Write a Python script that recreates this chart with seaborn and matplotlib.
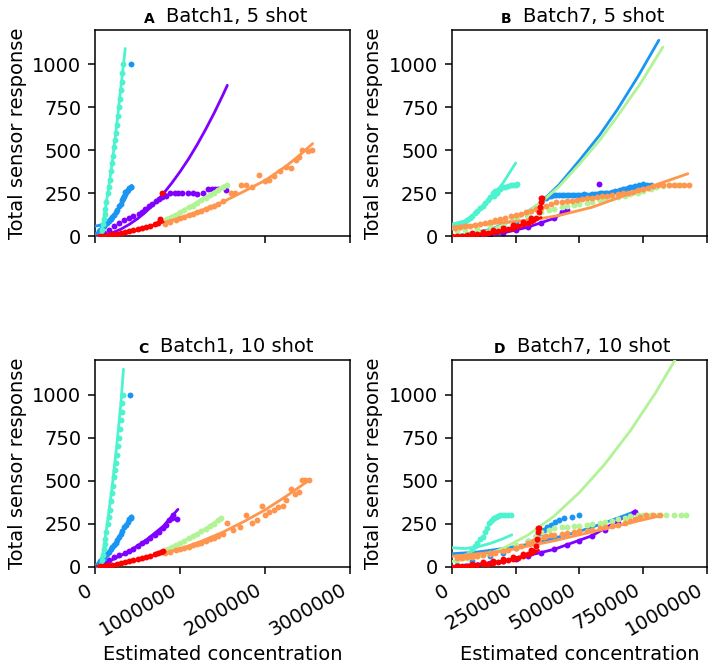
import matplotlib
matplotlib.use('Agg')
import matplotlib.pyplot as plt
import seaborn as sns

# gases in draw order, coloured by the rainbow colormap
gases = ['g1', 'g2', 'g3', 'g4', 'g5', 'g6']
gas_colors = ['#8000ff', '#1996f3', '#4df3ce', '#b2f396', '#ff964f', '#ff0000']

panel_letters = ['A', 'B', 'C', 'D']
panel_titles = ['Batch1, 5 shot', 'Batch7, 5 shot', 'Batch1, 10 shot', 'Batch7, 10 shot']

y_ticks = [0, 250, 500, 750, 1000]
x_ticks_batch1 = [0, 1000000, 2000000, 3000000]
x_ticks_batch7 = [0, 250000, 500000, 750000, 1000000]

# ---------------- panel A: Batch1, 5 shot ----------------
A_g1_dots = [(0.02e6, 3), (0.06e6, 10), (0.1e6, 20), (0.16e6, 40), (0.22e6, 60), (0.28e6, 80), (0.34e6, 95),
             (0.395e6, 110), (0.45e6, 120), (0.51e6, 132), (0.55e6, 145), (0.59e6, 160), (0.63e6, 175),
             (0.668e6, 190), (0.71e6, 205), (0.747e6, 218), (0.78e6, 230), (0.805e6, 240), (0.83e6, 235),
             (0.88e6, 250), (0.94e6, 250), (0.97e6, 255), (1.02e6, 252), (1.09e6, 250), (1.15e6, 250),
             (1.2e6, 248), (1.27e6, 252), (1.33e6, 278), (1.37e6, 278), (1.41e6, 278), (1.45e6, 275),
             (1.545e6, 272)]
A_g1_fit = [(0, 0), (0.1e6, 7), (0.2e6, 21), (0.3e6, 42), (0.4e6, 70), (0.5e6, 104), (0.6e6, 145), (0.7e6, 193),
            (0.8e6, 248), (0.9e6, 310), (1.0e6, 378), (1.1e6, 452), (1.2e6, 534), (1.3e6, 623), (1.4e6, 718),
            (1.5e6, 820), (1.555e6, 879)]
A_g2_dots = [(0.02e6, 15), (0.04e6, 30), (0.06e6, 40), (0.08e6, 50), (0.1e6, 58), (0.12e6, 70), (0.14e6, 80),
             (0.16e6, 90), (0.18e6, 100), (0.2e6, 112), (0.22e6, 125), (0.24e6, 140), (0.26e6, 155),
             (0.28e6, 175), (0.3e6, 190), (0.317e6, 210), (0.33e6, 225), (0.34e6, 235), (0.355e6, 258),
             (0.37e6, 265), (0.385e6, 270), (0.4e6, 280), (0.415e6, 285), (0.426e6, 287), (0.42e6, 1000)]
A_g2_fit = [(0, 60), (0.05e6, 65), (0.1e6, 75), (0.15e6, 92), (0.2e6, 115), (0.25e6, 144), (0.3e6, 179),
            (0.35e6, 219), (0.4e6, 266), (0.43e6, 297)]
A_g3_dots = [(0.064e6, 10), (0.076e6, 40), (0.088e6, 70), (0.1e6, 100), (0.109e6, 130), (0.119e6, 160),
             (0.131e6, 200), (0.147e6, 250), (0.159e6, 290), (0.171e6, 330), (0.185e6, 380), (0.2e6, 430),
             (0.21e6, 470), (0.221e6, 520), (0.231e6, 560), (0.24e6, 600), (0.252e6, 650), (0.264e6, 700),
             (0.275e6, 750), (0.286e6, 800), (0.298e6, 850), (0.309e6, 900), (0.318e6, 950), (0.322e6, 1000)]
A_g3_fit = [(0.06e6, 0), (0.1e6, 100), (0.15e6, 260), (0.2e6, 430), (0.25e6, 640), (0.3e6, 860),
            (0.353e6, 1093)]
A_g4_dots = [(0.85e6, 100), (0.9e6, 112), (0.95e6, 125), (1.0e6, 140), (1.05e6, 155), (1.1e6, 170),
             (1.15e6, 180), (1.2e6, 195), (1.25e6, 210), (1.3e6, 225), (1.35e6, 240), (1.4e6, 255),
             (1.45e6, 270), (1.5e6, 290), (1.55e6, 300)]
A_g4_fit = [(0.8e6, 95), (1.0e6, 142), (1.25e6, 215), (1.55e6, 305)]
A_g5_dots = [(0.82e6, 75), (0.88e6, 85), (0.95e6, 95), (1.0e6, 110), (1.05e6, 115), (1.1e6, 125), (1.15e6, 132),
             (1.2e6, 140), (1.25e6, 150), (1.3e6, 160), (1.35e6, 170), (1.4e6, 180), (1.45e6, 190),
             (1.5e6, 205), (1.6e6, 250), (1.65e6, 252), (1.72e6, 300), (1.78e6, 298), (1.85e6, 290),
             (1.93e6, 355), (2.0e6, 320), (2.05e6, 330), (2.11e6, 350), (2.17e6, 380), (2.25e6, 405),
             (2.3e6, 400), (2.36e6, 447), (2.4e6, 460), (2.44e6, 500), (2.5e6, 495), (2.55e6, 500)]
A_g5_fit = [(0.8e6, 80), (1.0e6, 108), (1.25e6, 152), (1.5e6, 200), (1.75e6, 262), (2.0e6, 326), (2.25e6, 410),
            (2.4e6, 470), (2.56e6, 540)]
A_g6_dots = [(0.05e6, 2), (0.1e6, 5), (0.15e6, 8), (0.2e6, 12), (0.25e6, 17), (0.3e6, 22), (0.35e6, 28),
             (0.4e6, 33), (0.45e6, 38), (0.5e6, 44), (0.55e6, 50), (0.6e6, 56), (0.65e6, 63), (0.7e6, 72),
             (0.74e6, 80), (0.766e6, 103), (0.785e6, 252)]
A_g6_fit = [(0, 0), (0.2e6, 10), (0.4e6, 25), (0.6e6, 50), (0.8e6, 85)]

# ---------------- panel B: Batch7, 5 shot ----------------
B_g1_dots = [(0.05e6, 2), (0.1e6, 5), (0.15e6, 10), (0.2e6, 20), (0.25e6, 35), (0.3e6, 55), (0.35e6, 80),
             (0.4e6, 110), (0.43e6, 140), (0.45e6, 155), (0.576e6, 303)]
B_g1_fit = [(0, 0), (0.1e6, 5), (0.2e6, 20), (0.3e6, 55), (0.4e6, 105), (0.45e6, 150)]
B_g2_dots = [(0.05e6, 10), (0.1e6, 25), (0.15e6, 40), (0.2e6, 60), (0.25e6, 85), (0.3e6, 120), (0.33e6, 165),
             (0.354e6, 210), (0.37e6, 225), (0.38e6, 235), (0.39e6, 238), (0.4e6, 240), (0.41e6, 242),
             (0.42e6, 244), (0.43e6, 240), (0.44e6, 240), (0.45e6, 243), (0.46e6, 242), (0.47e6, 240),
             (0.48e6, 240), (0.49e6, 244), (0.5e6, 242), (0.51e6, 244), (0.52e6, 245), (0.53e6, 243),
             (0.54e6, 244), (0.55e6, 246), (0.56e6, 246), (0.57e6, 248), (0.58e6, 250), (0.59e6, 250),
             (0.6e6, 250), (0.61e6, 252), (0.62e6, 255), (0.63e6, 258), (0.64e6, 262), (0.65e6, 266),
             (0.66e6, 270), (0.67e6, 274), (0.68e6, 278), (0.69e6, 282), (0.7e6, 285), (0.71e6, 290),
             (0.72e6, 295), (0.735e6, 300), (0.75e6, 305), (0.765e6, 300), (0.78e6, 300)]
B_g2_fit = [(0, 0), (0.15e6, 40), (0.25e6, 100), (0.343e6, 190), (0.42e6, 300), (0.5e6, 442), (0.58e6, 590),
            (0.65e6, 740), (0.73e6, 930), (0.812e6, 1141)]
B_g3_dots = [(0.0, 55), (0.01e6, 60), (0.02e6, 65), (0.03e6, 70), (0.04e6, 75), (0.05e6, 85), (0.06e6, 95),
             (0.07e6, 108), (0.08e6, 120), (0.09e6, 135), (0.1e6, 150), (0.11e6, 165), (0.12e6, 180),
             (0.13e6, 195), (0.14e6, 210), (0.15e6, 230), (0.16e6, 250), (0.165e6, 235), (0.17e6, 265),
             (0.175e6, 255), (0.18e6, 270), (0.19e6, 278), (0.2e6, 285), (0.21e6, 290), (0.22e6, 295),
             (0.23e6, 300), (0.24e6, 300), (0.25e6, 300), (0.257e6, 303)]
B_g3_fit = [(0, 72), (0.05e6, 90), (0.1e6, 140), (0.15e6, 215), (0.2e6, 310), (0.25e6, 427)]
B_g4_dots = [(0.02e6, 30), (0.05e6, 35), (0.1e6, 45), (0.15e6, 60), (0.2e6, 80), (0.25e6, 100), (0.3e6, 120),
             (0.35e6, 140), (0.38e6, 155), (0.4e6, 160), (0.43e6, 170), (0.45e6, 175), (0.48e6, 185),
             (0.5e6, 190), (0.53e6, 195), (0.55e6, 200), (0.58e6, 210), (0.6e6, 215), (0.63e6, 222),
             (0.65e6, 230), (0.68e6, 238), (0.7e6, 245), (0.73e6, 255), (0.75e6, 265), (0.78e6, 275),
             (0.8e6, 285), (0.83e6, 295), (0.85e6, 300), (0.88e6, 300), (0.9e6, 300)]
B_g4_fit = [(0, 0), (0.15e6, 35), (0.25e6, 100), (0.343e6, 190), (0.42e6, 290), (0.5e6, 420), (0.58e6, 560),
            (0.65e6, 700), (0.74e6, 890), (0.828e6, 1102)]
B_g5_dots = [(0.01e6, 52), (0.03e6, 55), (0.05e6, 58), (0.07e6, 62), (0.09e6, 67), (0.11e6, 73), (0.13e6, 79),
             (0.15e6, 85), (0.17e6, 93), (0.19e6, 100), (0.21e6, 108), (0.23e6, 117), (0.25e6, 125),
             (0.27e6, 133), (0.29e6, 141), (0.31e6, 149), (0.33e6, 157), (0.35e6, 165), (0.37e6, 178),
             (0.39e6, 190), (0.41e6, 198), (0.43e6, 201), (0.45e6, 204), (0.47e6, 207), (0.49e6, 212),
             (0.51e6, 217), (0.53e6, 221), (0.55e6, 225), (0.57e6, 229), (0.59e6, 233), (0.61e6, 237),
             (0.63e6, 241), (0.65e6, 245), (0.67e6, 250), (0.69e6, 255), (0.71e6, 261), (0.73e6, 268),
             (0.75e6, 275), (0.77e6, 283), (0.79e6, 291), (0.81e6, 298), (0.83e6, 300), (0.85e6, 300),
             (0.87e6, 300), (0.89e6, 300), (0.91e6, 300), (0.93e6, 300)]
B_g5_fit = [(0, 55), (0.2e6, 80), (0.343e6, 103), (0.42e6, 122), (0.55e6, 170), (0.697e6, 248), (0.8e6, 300),
            (0.926e6, 365)]
B_g6_dots = [(0.0, 0), (0.02e6, 2), (0.04e6, 4), (0.06e6, 6), (0.08e6, 9), (0.1e6, 12), (0.12e6, 15),
             (0.14e6, 19), (0.16e6, 24), (0.18e6, 30), (0.2e6, 36), (0.22e6, 43), (0.24e6, 52), (0.26e6, 60),
             (0.28e6, 70), (0.3e6, 80), (0.31e6, 88), (0.32e6, 95), (0.33e6, 110), (0.08e6, 20), (0.12e6, 28),
             (0.16e6, 38), (0.2e6, 50), (0.24e6, 65), (0.28e6, 85), (0.31e6, 105), (0.34e6, 140),
             (0.345e6, 170), (0.35e6, 200), (0.35e6, 225), (0.355e6, 225)]
B_g6_fit = [(0, 0), (0.1e6, 12), (0.2e6, 35), (0.3e6, 80), (0.35e6, 110)]

# ---------------- panel C: Batch1, 10 shot ----------------
C_g1_dots = [(0.02e6, 3), (0.06e6, 12), (0.1e6, 22), (0.16e6, 40), (0.22e6, 55), (0.28e6, 68), (0.355e6, 79),
             (0.4e6, 90), (0.45e6, 105), (0.5e6, 120), (0.55e6, 137), (0.6e6, 150), (0.65e6, 168), (0.7e6, 185),
             (0.747e6, 204), (0.8e6, 225), (0.83e6, 240), (0.864e6, 272), (0.9e6, 285), (0.92e6, 300),
             (0.96e6, 276)]
C_g1_fit = [(0, 0), (0.2e6, 40), (0.4e6, 90), (0.6e6, 155), (0.8e6, 235), (0.973e6, 333)]
C_g2_dots = [(0.02e6, 10), (0.04e6, 20), (0.06e6, 32), (0.08e6, 42), (0.1e6, 52), (0.12e6, 62), (0.14e6, 75),
             (0.16e6, 88), (0.18e6, 100), (0.2e6, 112), (0.22e6, 125), (0.24e6, 140), (0.26e6, 155),
             (0.28e6, 172), (0.3e6, 190), (0.32e6, 208), (0.34e6, 228), (0.36e6, 245), (0.38e6, 262),
             (0.4e6, 275), (0.415e6, 285), (0.426e6, 291), (0.41e6, 998)]
C_g2_fit = [(0.02e6, 0), (0.1e6, 50), (0.2e6, 112), (0.3e6, 190), (0.43e6, 295)]
C_g3_dots = [(0.064e6, 10), (0.076e6, 40), (0.088e6, 70), (0.1e6, 100), (0.109e6, 130), (0.119e6, 160),
             (0.131e6, 200), (0.147e6, 250), (0.159e6, 290), (0.171e6, 330), (0.185e6, 380), (0.2e6, 430),
             (0.21e6, 470), (0.221e6, 520), (0.231e6, 560), (0.24e6, 600), (0.252e6, 650), (0.264e6, 700),
             (0.275e6, 750), (0.286e6, 800), (0.298e6, 850), (0.309e6, 900), (0.318e6, 950), (0.322e6, 998)]
C_g3_fit = [(0.06e6, 0), (0.1e6, 110), (0.15e6, 280), (0.2e6, 470), (0.25e6, 690), (0.3e6, 940),
            (0.332e6, 1148)]
C_g4_dots = [(0.82e6, 95), (0.86e6, 105), (0.9e6, 115), (0.95e6, 125), (1.0e6, 140), (1.05e6, 150),
             (1.1e6, 165), (1.15e6, 178), (1.2e6, 190), (1.25e6, 205), (1.3e6, 220), (1.35e6, 235),
             (1.4e6, 250), (1.45e6, 270), (1.48e6, 281)]
C_g4_fit = [(0.8e6, 92), (1.0e6, 138), (1.25e6, 205), (1.48e6, 283)]
C_g5_dots = [(0.82e6, 80), (0.88e6, 85), (0.95e6, 95), (1.0e6, 100), (1.05e6, 108), (1.1e6, 115), (1.15e6, 125),
             (1.2e6, 130), (1.25e6, 140), (1.3e6, 150), (1.35e6, 158), (1.4e6, 165), (1.45e6, 180),
             (1.5e6, 190), (1.55e6, 256), (1.62e6, 215), (1.7e6, 230), (1.78e6, 300), (1.85e6, 255),
             (1.9e6, 270), (1.96e6, 353), (2.0e6, 300), (2.05e6, 315), (2.1e6, 330), (2.15e6, 345),
             (2.21e6, 353), (2.25e6, 390), (2.31e6, 449), (2.35e6, 420), (2.4e6, 435), (2.43e6, 503),
             (2.47e6, 503), (2.52e6, 503)]
C_g5_fit = [(0.8e6, 78), (1.0e6, 103), (1.25e6, 148), (1.5e6, 200), (1.75e6, 262), (2.0e6, 330), (2.25e6, 410),
            (2.52e6, 503)]
C_g6_dots = [(0.05e6, 2), (0.1e6, 5), (0.15e6, 8), (0.2e6, 12), (0.25e6, 17), (0.3e6, 22), (0.35e6, 28),
             (0.4e6, 33), (0.45e6, 38), (0.5e6, 44), (0.55e6, 50), (0.6e6, 56), (0.65e6, 63), (0.7e6, 72),
             (0.74e6, 80), (0.77e6, 88), (0.8e6, 92)]
C_g6_fit = [(0, 0), (0.2e6, 10), (0.4e6, 28), (0.6e6, 52), (0.8e6, 85)]

# ---------------- panel D: Batch7, 10 shot ----------------
D_g1_dots = [(0.05e6, 3), (0.1e6, 10), (0.15e6, 20), (0.2e6, 30), (0.25e6, 45), (0.3e6, 60), (0.35e6, 80),
             (0.4e6, 100), (0.45e6, 125), (0.5e6, 150), (0.55e6, 180), (0.6e6, 215), (0.65e6, 255),
             (0.7e6, 300), (0.72e6, 320)]
D_g1_fit = [(0, 0), (0.2e6, 30), (0.4e6, 100), (0.55e6, 180), (0.72e6, 325)]
D_g2_dots = [(0.02e6, 10), (0.08e6, 30), (0.15e6, 60), (0.2e6, 80), (0.25e6, 110), (0.3e6, 150), (0.33e6, 180),
             (0.345e6, 198), (0.36e6, 215), (0.375e6, 230), (0.39e6, 245), (0.405e6, 260), (0.42e6, 272),
             (0.44e6, 283), (0.47e6, 290), (0.5e6, 300)]
D_g2_fit = [(0, 75), (0.1e6, 85), (0.2e6, 105), (0.3e6, 130), (0.4e6, 165), (0.5e6, 205), (0.6e6, 255),
            (0.7e6, 310)]
D_g3_dots = [(0.05e6, 60), (0.06e6, 70), (0.067e6, 79), (0.08e6, 100), (0.09e6, 120), (0.1e6, 140),
             (0.11e6, 160), (0.12e6, 175), (0.13e6, 200), (0.138e6, 225), (0.146e6, 252), (0.153e6, 265),
             (0.16e6, 275), (0.166e6, 284), (0.172e6, 291), (0.18e6, 295), (0.19e6, 298), (0.2e6, 300),
             (0.21e6, 300), (0.22e6, 300), (0.231e6, 300)]
D_g3_fit = [(0, 110), (0.05e6, 105), (0.1e6, 115), (0.15e6, 135), (0.2e6, 162), (0.235e6, 185)]
D_g4_dots = [(0.02e6, 40), (0.06e6, 50), (0.1e6, 60), (0.15e6, 80), (0.2e6, 100), (0.25e6, 125), (0.3e6, 150),
             (0.33e6, 180), (0.35e6, 200), (0.38e6, 215), (0.4e6, 225), (0.43e6, 228), (0.45e6, 230),
             (0.48e6, 235), (0.5e6, 238), (0.53e6, 244), (0.55e6, 248), (0.58e6, 254), (0.6e6, 258),
             (0.63e6, 268), (0.65e6, 275), (0.68e6, 285), (0.7e6, 292), (0.73e6, 298), (0.75e6, 300),
             (0.78e6, 300), (0.81e6, 300), (0.84e6, 300), (0.87e6, 300), (0.9e6, 300), (0.92e6, 300)]
D_g4_fit = [(0, 30), (0.1e6, 53), (0.2e6, 105), (0.3e6, 185), (0.4e6, 293), (0.5e6, 431), (0.6e6, 596),
            (0.7e6, 790), (0.8e6, 1013), (0.875e6, 1200)]
D_g5_dots = [(0.02e6, 50), (0.04e6, 52), (0.06e6, 55), (0.08e6, 58), (0.1e6, 62), (0.12e6, 67), (0.15e6, 75),
             (0.17e6, 82), (0.2e6, 90), (0.22e6, 98), (0.25e6, 110), (0.27e6, 120), (0.3e6, 135),
             (0.32e6, 148), (0.34e6, 160), (0.36e6, 172), (0.37e6, 180), (0.39e6, 183), (0.4e6, 185),
             (0.43e6, 190), (0.45e6, 195), (0.48e6, 200), (0.5e6, 205), (0.53e6, 210), (0.55e6, 215),
             (0.58e6, 222), (0.6e6, 228), (0.63e6, 238), (0.65e6, 245), (0.68e6, 255), (0.7e6, 265),
             (0.72e6, 278), (0.74e6, 290), (0.76e6, 300), (0.79e6, 300), (0.815e6, 300)]
D_g5_fit = [(0, 60), (0.2e6, 90), (0.4e6, 150), (0.6e6, 220), (0.815e6, 295)]
D_g6_dots = [(0.0, 0), (0.02e6, 2), (0.04e6, 4), (0.06e6, 6), (0.08e6, 8), (0.1e6, 11), (0.12e6, 14),
             (0.14e6, 18), (0.16e6, 22), (0.18e6, 27), (0.2e6, 32), (0.22e6, 38), (0.24e6, 45), (0.26e6, 53),
             (0.28e6, 62), (0.3e6, 72), (0.31e6, 80), (0.32e6, 90), (0.08e6, 18), (0.12e6, 26), (0.16e6, 34),
             (0.2e6, 45), (0.24e6, 58), (0.28e6, 75), (0.31e6, 95), (0.33e6, 120), (0.335e6, 160),
             (0.336e6, 200), (0.338e6, 224), (0.342e6, 224)]
D_g6_fit = [(0, 0), (0.1e6, 10), (0.2e6, 30), (0.3e6, 70), (0.34e6, 95)]

panel_dots = [
    [A_g1_dots, A_g2_dots, A_g3_dots, A_g4_dots, A_g5_dots, A_g6_dots],
    [B_g1_dots, B_g2_dots, B_g3_dots, B_g4_dots, B_g5_dots, B_g6_dots],
    [C_g1_dots, C_g2_dots, C_g3_dots, C_g4_dots, C_g5_dots, C_g6_dots],
    [D_g1_dots, D_g2_dots, D_g3_dots, D_g4_dots, D_g5_dots, D_g6_dots],
]
panel_fits = [
    [A_g1_fit, A_g2_fit, A_g3_fit, A_g4_fit, A_g5_fit, A_g6_fit],
    [B_g1_fit, B_g2_fit, B_g3_fit, B_g4_fit, B_g5_fit, B_g6_fit],
    [C_g1_fit, C_g2_fit, C_g3_fit, C_g4_fit, C_g5_fit, C_g6_fit],
    [D_g1_fit, D_g2_fit, D_g3_fit, D_g4_fit, D_g5_fit, D_g6_fit],
]

sns.set_style('ticks')
plt.rcParams['font.family'] = ['DejaVu Sans']
plt.rcParams['axes.edgecolor'] = 'black'
plt.rcParams['axes.linewidth'] = 1.1
plt.rcParams['xtick.color'] = 'black'
plt.rcParams['ytick.color'] = 'black'
plt.rcParams['text.color'] = 'black'
plt.rcParams['axes.labelcolor'] = 'black'

fig, axes = plt.subplots(2, 2, figsize=(7.11, 6.69), dpi=100)
fig.subplots_adjust(left=0.134, right=0.994, bottom=0.153, top=0.955, wspace=0.4, hspace=0.6)

for k, ax in enumerate(axes.flat):
    for i, col in enumerate(gas_colors):
        dots = panel_dots[k][i]
        fit = panel_fits[k][i]
        sns.scatterplot(x=[p[0] for p in dots], y=[p[1] for p in dots], color=col, s=18,
                        linewidth=0, ax=ax, zorder=2 + 2 * i)
        sns.lineplot(x=[p[0] for p in fit], y=[p[1] for p in fit], color=col, lw=2,
                     sort=False, estimator=None, ax=ax, zorder=3 + 2 * i)

    batch1 = k % 2 == 0
    ax.set_xlim(0, 3000000 if batch1 else 1000000)
    ax.set_ylim(0, 1200)
    ax.set_xticks(x_ticks_batch1 if batch1 else x_ticks_batch7)
    ax.set_yticks(y_ticks)
    ax.ticklabel_format(style='plain', useOffset=False)
    ax.tick_params(labelsize=14, length=5, width=1.1, pad=5)
    ax.set_ylabel('Total sensor response', fontsize=14)
    if k < 2:
        ax.tick_params(labelbottom=False)
        ax.set_xlabel('')
    else:
        ax.set_xlabel('Estimated concentration', fontsize=14)
        plt.setp(ax.get_xticklabels(), rotation=30, ha='right')

    t = ax.set_title(panel_titles[k], fontsize=14, x=0.555)
    ax.annotate(panel_letters[k], xy=(0, 0), xycoords=t, xytext=(-8, 0), textcoords='offset points',
                ha='right', va='bottom', fontsize=10, fontweight='bold')
    for s in ax.spines.values():
        s.set_visible(True)

fig.savefig('out.png', dpi=100)
